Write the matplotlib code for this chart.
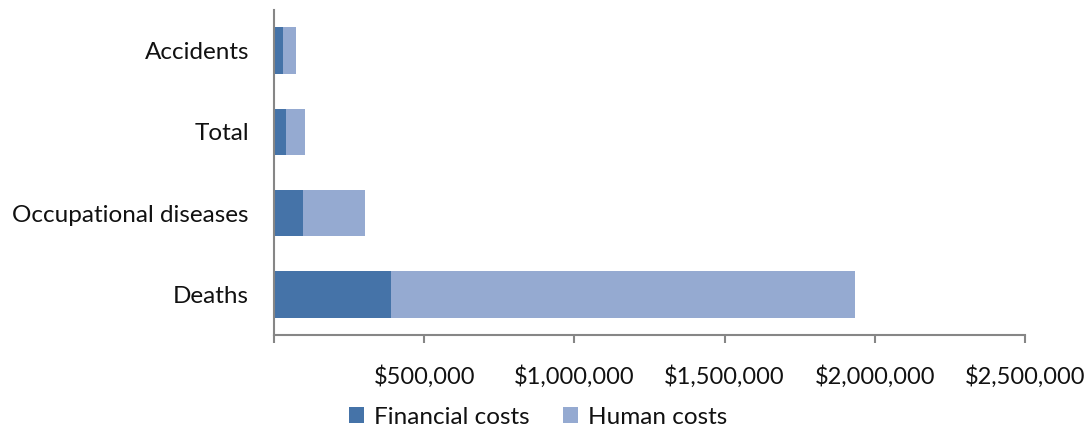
import matplotlib.pyplot as plt
from matplotlib.ticker import FuncFormatter, MultipleLocator

# Data
categories = ['Deaths', 'Occupational diseases', 'Total', 'Accidents']
financial_costs = [388000, 97000, 40000, 30000]
human_costs = [1546000, 206000, 63000, 43000]

colors = {'financial': '#4573A8', 'human': '#95AAD1', 'axis': '#868686'}

plt.rcParams['font.family'] = ['Lato', 'DejaVu Sans']

fig = plt.figure(figsize=(10.9, 4.3), dpi=100)
ax = fig.add_axes([274 / 1090, 1 - 335 / 430, (1025 - 274) / 1090, 325 / 430])

ypos = range(len(categories))
ax.barh(ypos, financial_costs, height=0.57, color=colors['financial'],
        label='Financial costs')
ax.barh(ypos, human_costs, left=financial_costs, height=0.57,
        color=colors['human'], label='Human costs')

ax.set_xlim(0, 2500000)
ax.set_ylim(-0.5, len(categories) - 0.5)
ax.set_yticks(list(ypos))
ax.set_yticklabels(categories, fontsize=17.5, color='#111111')
ax.xaxis.set_major_locator(MultipleLocator(500000))
ax.xaxis.set_major_formatter(FuncFormatter(lambda v, p: '' if v == 0 else f'${v:,.0f}'))

for side in ['top', 'right']:
    ax.spines[side].set_visible(False)
for side in ['left', 'bottom']:
    ax.spines[side].set_color(colors['axis'])
    ax.spines[side].set_linewidth(1.5)

ax.tick_params(axis='y', length=0, pad=18)
ax.tick_params(axis='x', direction='out', length=6, width=1.5, color=colors['axis'],
               pad=16, labelsize=17, labelcolor='#111111')

fig.legend(loc='center', bbox_to_anchor=(538 / 1090, 1 - 417 / 430), ncol=2,
           frameon=False, fontsize=17.5, handlelength=0.6, handleheight=0.6,
           handletextpad=0.4, columnspacing=1.4, labelcolor='#111111')

fig.savefig('out.png', dpi=100, facecolor='white')
